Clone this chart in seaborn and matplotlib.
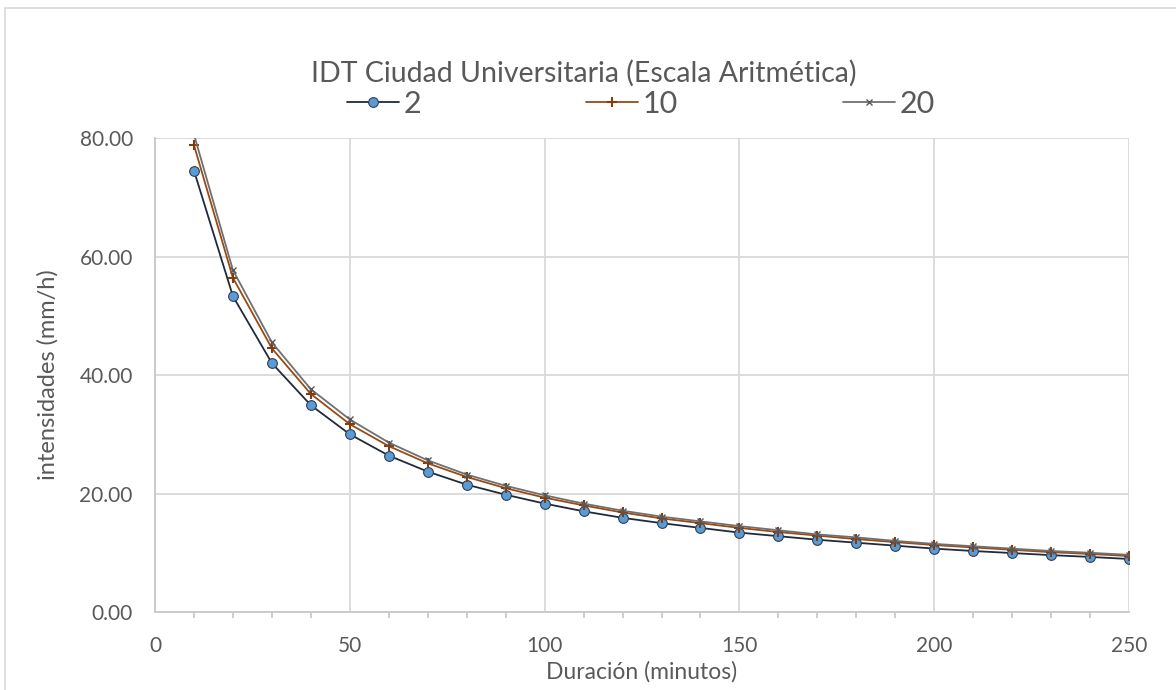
import numpy as np
import pandas as pd
import matplotlib.pyplot as plt
import seaborn as sns
from matplotlib.patches import Rectangle
from matplotlib.ticker import MultipleLocator

# -----------------------------
# DATA
# -----------------------------
duracion = [10, 20, 30, 40, 50, 60, 70, 80, 90, 100, 110, 120, 130,
            140, 150, 160, 170, 180, 190, 200, 210, 220, 230, 240, 250]

i_tr2 = [74.5, 53.3, 42.0, 34.9, 30.0, 26.4, 23.7, 21.5, 19.8, 18.3, 17.0, 15.9, 15.0,
         14.2, 13.4, 12.8, 12.2, 11.7, 11.2, 10.7, 10.3, 9.95, 9.6, 9.3, 8.95]
i_tr10 = [78.8, 56.4, 44.5, 36.8, 31.7, 28.0, 25.1, 22.8, 20.9, 19.3, 18.0, 16.8, 15.8,
          15.0, 14.2, 13.5, 12.9, 12.3, 11.8, 11.3, 10.9, 10.5, 10.1, 9.8, 9.45]
i_tr20 = [80.6, 57.7, 45.5, 37.6, 32.5, 28.6, 25.6, 23.2, 21.3, 19.7, 18.3, 17.1, 16.1,
          15.3, 14.5, 13.8, 13.1, 12.6, 12.0, 11.5, 11.1, 10.7, 10.3, 10.0, 9.65]

periodos = ["2", "10", "20"]

# -----------------------------
# STYLE
# -----------------------------
sns.set_style("white")
plt.rcParams["font.family"] = ["Lato", "DejaVu Sans"]
text_color = "#595959"
grid_color = "#d9d9d9"

fig = plt.figure(figsize=(11.76, 6.90), dpi=100)
ax = fig.add_axes([0.1318, 0.113, 0.8283, 0.687])

series = [
    (i_tr2, dict(color="#1f2a3c", marker="o", markersize=7, markerfacecolor="#5b9bd5",
                 markeredgecolor="#2e3f55", markeredgewidth=0.8)),
    (i_tr10, dict(color="#9a4a12", marker="+", markersize=7, markeredgewidth=1.5,
                  markeredgecolor="#843c0c")),
    (i_tr20, dict(color="#707070", marker="x", markersize=4, markeredgewidth=1.0,
                  markeredgecolor="#595959")),
]

for (vals, kw), name in zip(series, periodos):
    df = pd.DataFrame({"d": duracion, "i": vals})
    sns.lineplot(data=df, x="d", y="i", ax=ax, linewidth=1.3, label=name, **kw)

ax.set_xlim(0, 250)
ax.set_ylim(0, 80)
ax.set_xticks(range(0, 251, 50))
ax.xaxis.set_minor_locator(MultipleLocator(10))
ax.set_yticks(range(0, 81, 20))
ax.set_yticklabels([f"{v:.2f}" for v in range(0, 81, 20)])
ax.grid(True, which="major", color=grid_color, linewidth=1.3)
ax.set_axisbelow(True)
for s in ["top", "right"]:
    ax.spines[s].set_visible(False)
for s in ["left", "bottom"]:
    ax.spines[s].set_color("#c8c8c8")
    ax.spines[s].set_linewidth(1.3)
ax.tick_params(axis="both", which="major", length=0, labelsize=15, colors=text_color)
ax.tick_params(axis="x", which="major", pad=17)
ax.tick_params(axis="y", which="major", pad=16)
ax.tick_params(axis="x", which="minor", bottom=True, length=4, width=1.3,
               color="#c8c8c8", direction="out")
ax.set_xlabel("Duración (minutos)", fontsize=16.5, color=text_color, labelpad=4)
ax.set_ylabel("intensidades (mm/h)", fontsize=17, color=text_color, labelpad=15)

fig.text(0.496, 0.894, "IDT Ciudad Universitaria (Escala Aritmética)",
         ha="center", va="center", fontsize=20.5, color=text_color)

handles, labels = ax.get_legend_handles_labels()
ax.get_legend().remove()
fig.legend(handles, labels, loc="center", bbox_to_anchor=(0.545, 0.849), ncol=3,
           frameon=False, fontsize=22, labelcolor=text_color, handlelength=1.7,
           handletextpad=0.15, columnspacing=5.4)

# chart area border
fig.patches.append(Rectangle((0.004, -0.05), 1.2, 1.038, transform=fig.transFigure,
                             fill=False, edgecolor=grid_color, linewidth=1.2))

fig.savefig("out.png", dpi=100)
